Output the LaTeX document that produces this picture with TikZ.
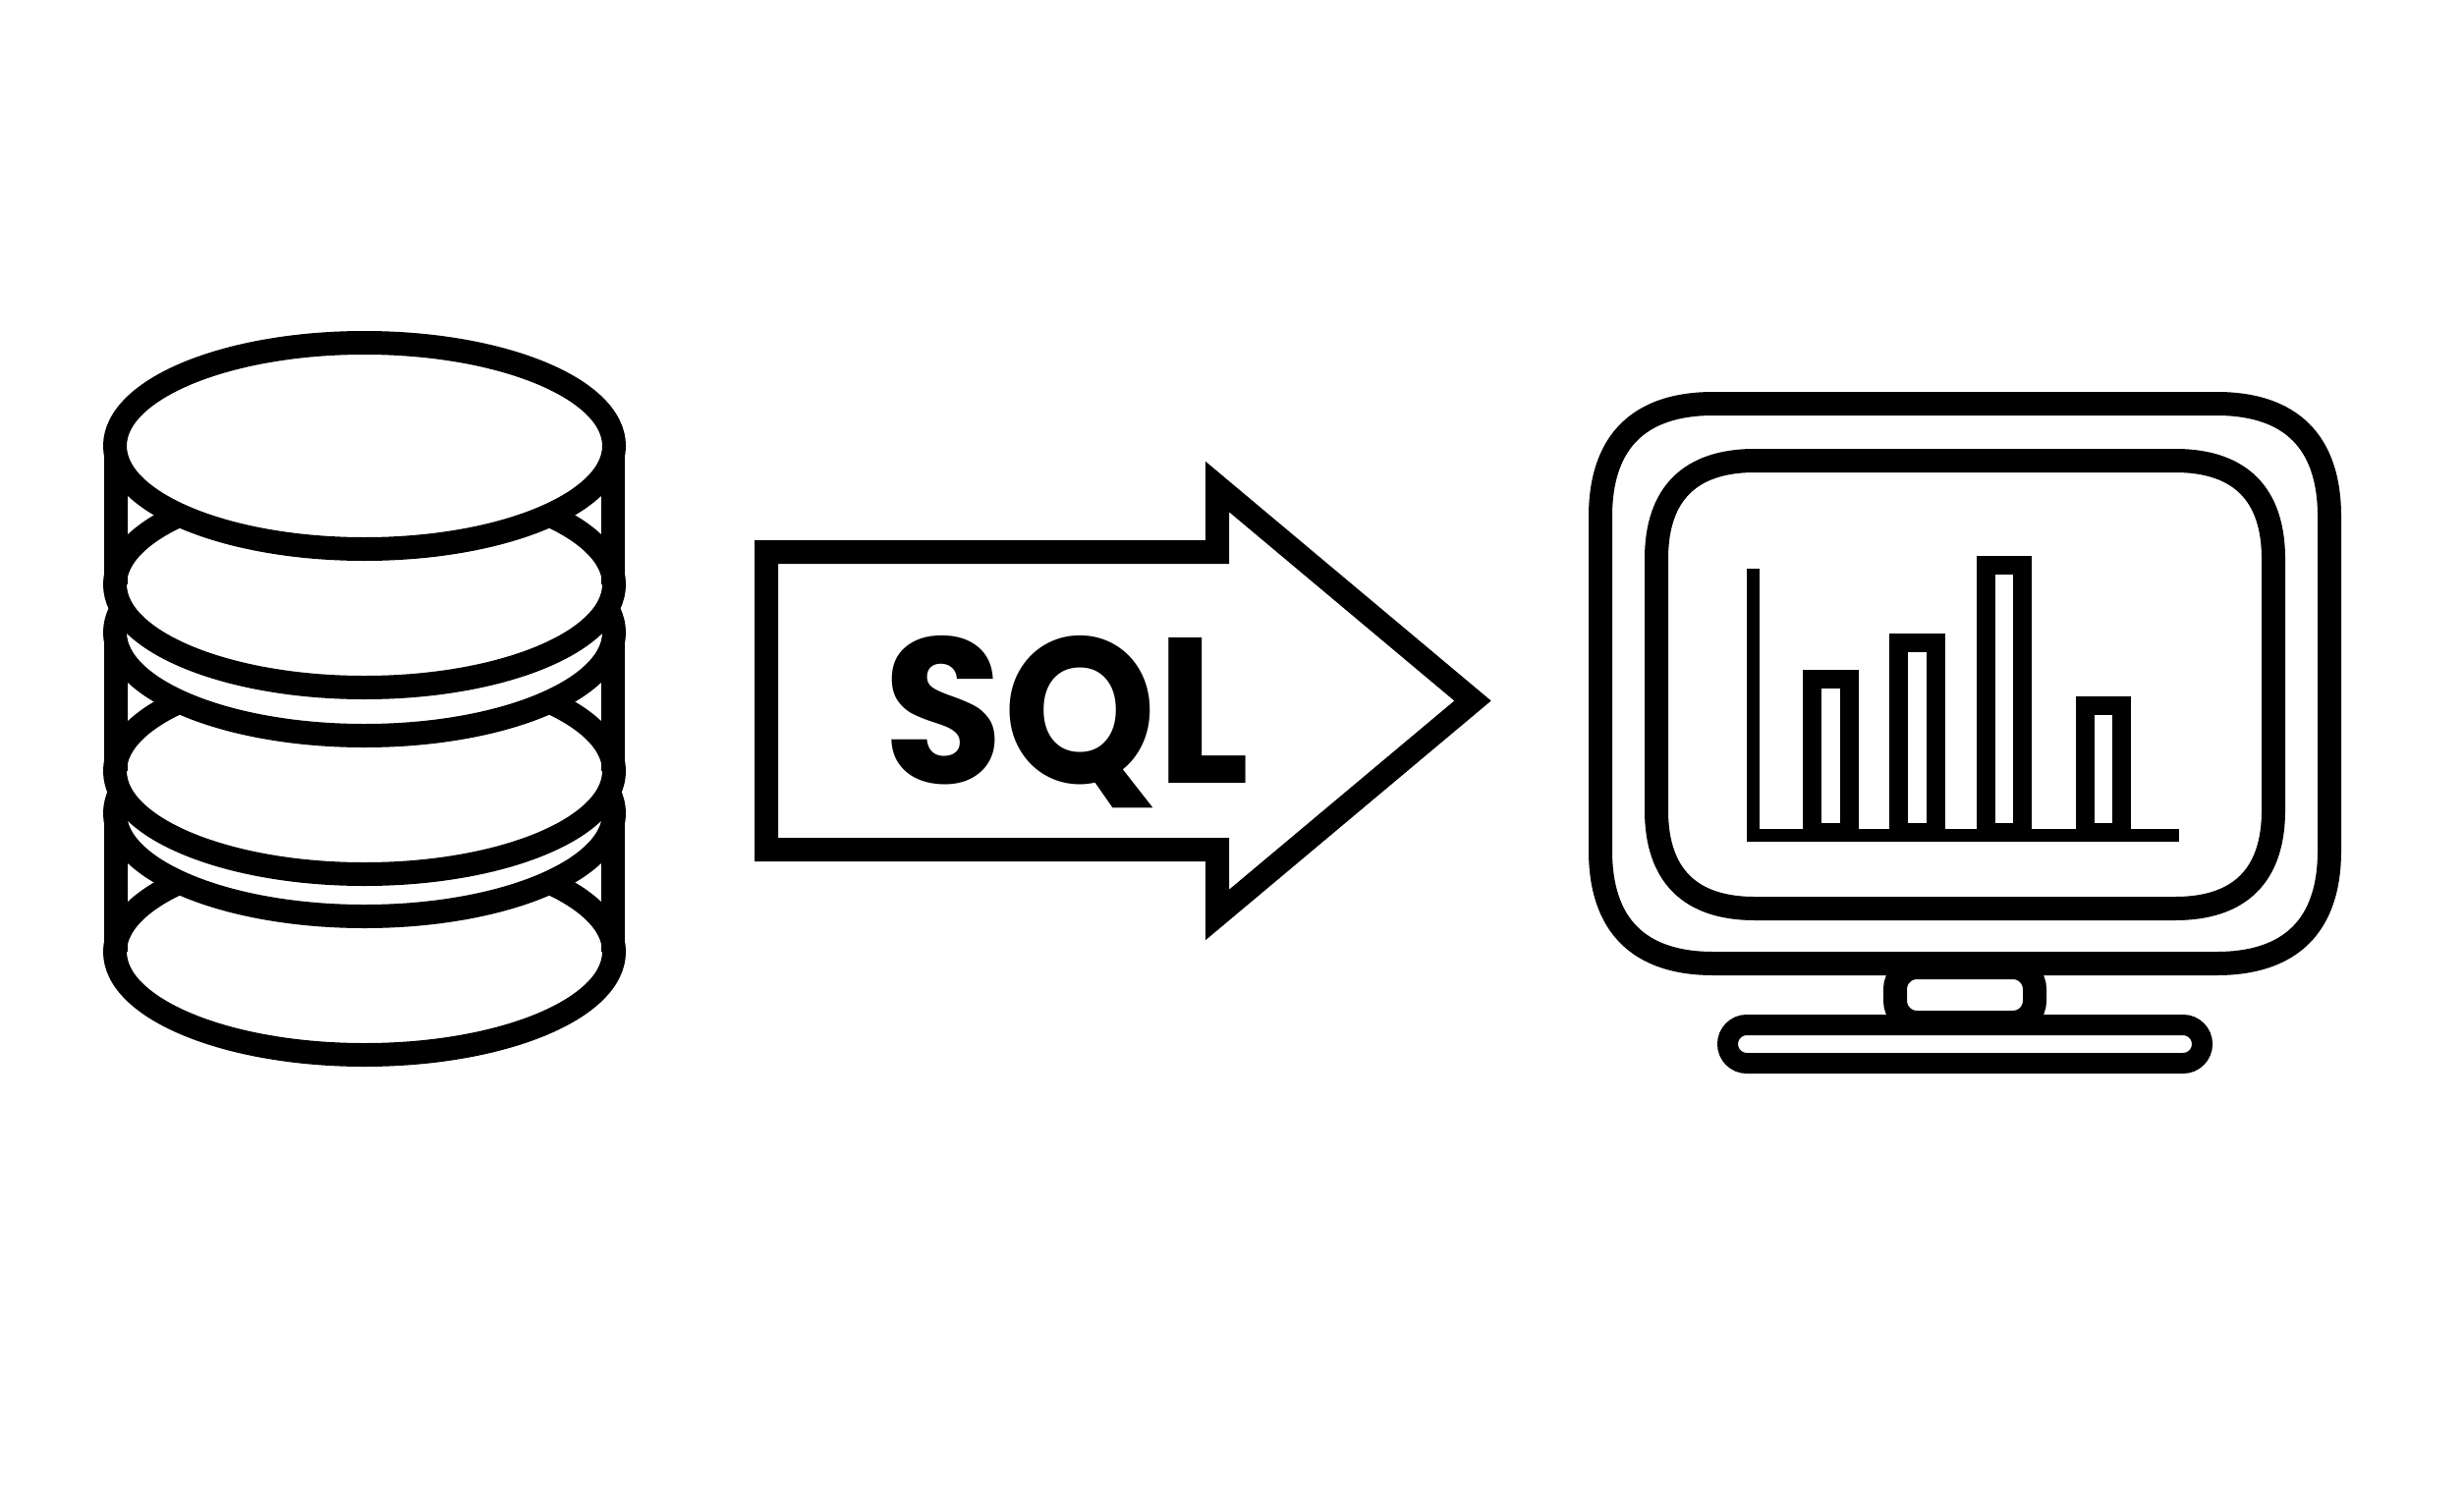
\documentclass[tikz,border=0pt]{standalone}
\usepackage{fontspec}
\usepackage{tikz}
\setmainfont{Poppins}

\tikzset{
  thick line/.style={draw=black, line width=2.4mm, miter limit=10},
  disc/.style={thick line, fill=white},
  bar line/.style={draw=black, line width=1.9mm},
  axis line/.style={draw=black, line width=1.3mm},
  stand line/.style={draw=black, line width=2.1mm},
  sql label/.style={inner sep=0pt, anchor=base, xscale=0.94}
}

% soft rectangle: left, bottom, right, top, corner length, handle offset (mm)
\newcommand{\softrect}[6]{
  ({#1mm+#5mm},#2mm) -- ({#3mm-#5mm},#2mm)
  .. controls ({#3mm-#6mm},#2mm) and (#3mm,{#2mm+#6mm}) .. (#3mm,{#2mm+#5mm})
  -- (#3mm,{#4mm-#5mm})
  .. controls (#3mm,{#4mm-#6mm}) and ({#3mm-#6mm},#4mm) .. ({#3mm-#5mm},#4mm)
  -- ({#1mm+#5mm},#4mm)
  .. controls ({#1mm+#6mm},#4mm) and (#1mm,{#4mm-#6mm}) .. (#1mm,{#4mm-#5mm})
  -- (#1mm,{#2mm+#5mm})
  .. controls (#1mm,{#2mm+#6mm}) and ({#1mm+#6mm},#2mm) .. ({#1mm+#5mm},#2mm) -- cycle
}

\begin{document}
\begin{tikzpicture}
    \path[use as bounding box] (0mm,0mm) rectangle (250.8mm,151.4mm);
    % database, painted from the bottom up
    \path[disc] (37.1mm,54.5mm) ellipse [x radius=25.4mm, y radius=10.5mm];
    \draw[thick line] (11.8mm,68.6mm) -- (11.8mm,54.5mm);
    \draw[thick line] (62.4mm,68.6mm) -- (62.4mm,54.5mm);
    \path[disc] (37.1mm,68.6mm) ellipse [x radius=25.4mm, y radius=10.5mm];
    \path[disc] (37.1mm,72.9mm) ellipse [x radius=25.4mm, y radius=10.5mm];
    \draw[thick line] (11.8mm,87mm) -- (11.8mm,72.9mm);
    \draw[thick line] (62.4mm,87mm) -- (62.4mm,72.9mm);
    \path[disc] (37.1mm,87mm) ellipse [x radius=25.4mm, y radius=10.5mm];
    \path[disc] (37.1mm,91.9mm) ellipse [x radius=25.4mm, y radius=10.5mm];
    \draw[thick line] (11.8mm,106mm) -- (11.8mm,91.9mm);
    \draw[thick line] (62.4mm,106mm) -- (62.4mm,91.9mm);
    \path[disc] (37.1mm,106mm) ellipse [x radius=25.4mm, y radius=10.5mm];
    % big arrow
    \draw[thick line] (78mm,95.2mm) -- (123.9mm,95.2mm) -- (123.9mm,101.85mm) --
    (149.9mm,80.05mm) -- (123.9mm,58.25mm) -- (123.9mm,64.9mm) -- (78mm,64.9mm) -- cycle;
    \node[sql label] (sql) at (108.55mm,71.7mm) {\fontsize{60}{60}\selectfont\bfseries SQL};
    % monitor
    \draw[thick line] \softrect{162.9}{53.3}{237.1}{110.3}{11.5}{3.9};
    \draw[thick line] \softrect{168.6}{58.9}{231.4}{104.5}{10}{3.4};
    \draw[thick line, rounded corners=2.2mm] (192.9mm,47.3mm) rectangle (207.1mm,52.9mm);
    \draw[stand line, rounded corners=1.95mm] (175.85mm,43.15mm) rectangle (224.15mm,47.05mm);
    % chart
    \draw[bar line] (184.45mm,66.65mm) rectangle (188.2mm,82.3mm);
    \draw[bar line] (193.25mm,66.65mm) rectangle (197.05mm,85.95mm);
    \draw[bar line] (202.15mm,66.65mm) rectangle (205.85mm,93.85mm);
    \draw[bar line] (212.2mm,66.65mm) rectangle (215.9mm,79.55mm);
    \draw[axis line] (178.45mm,93.5mm) -- (178.45mm,66.35mm) -- (221.8mm,66.35mm);
\end{tikzpicture}
\end{document}
